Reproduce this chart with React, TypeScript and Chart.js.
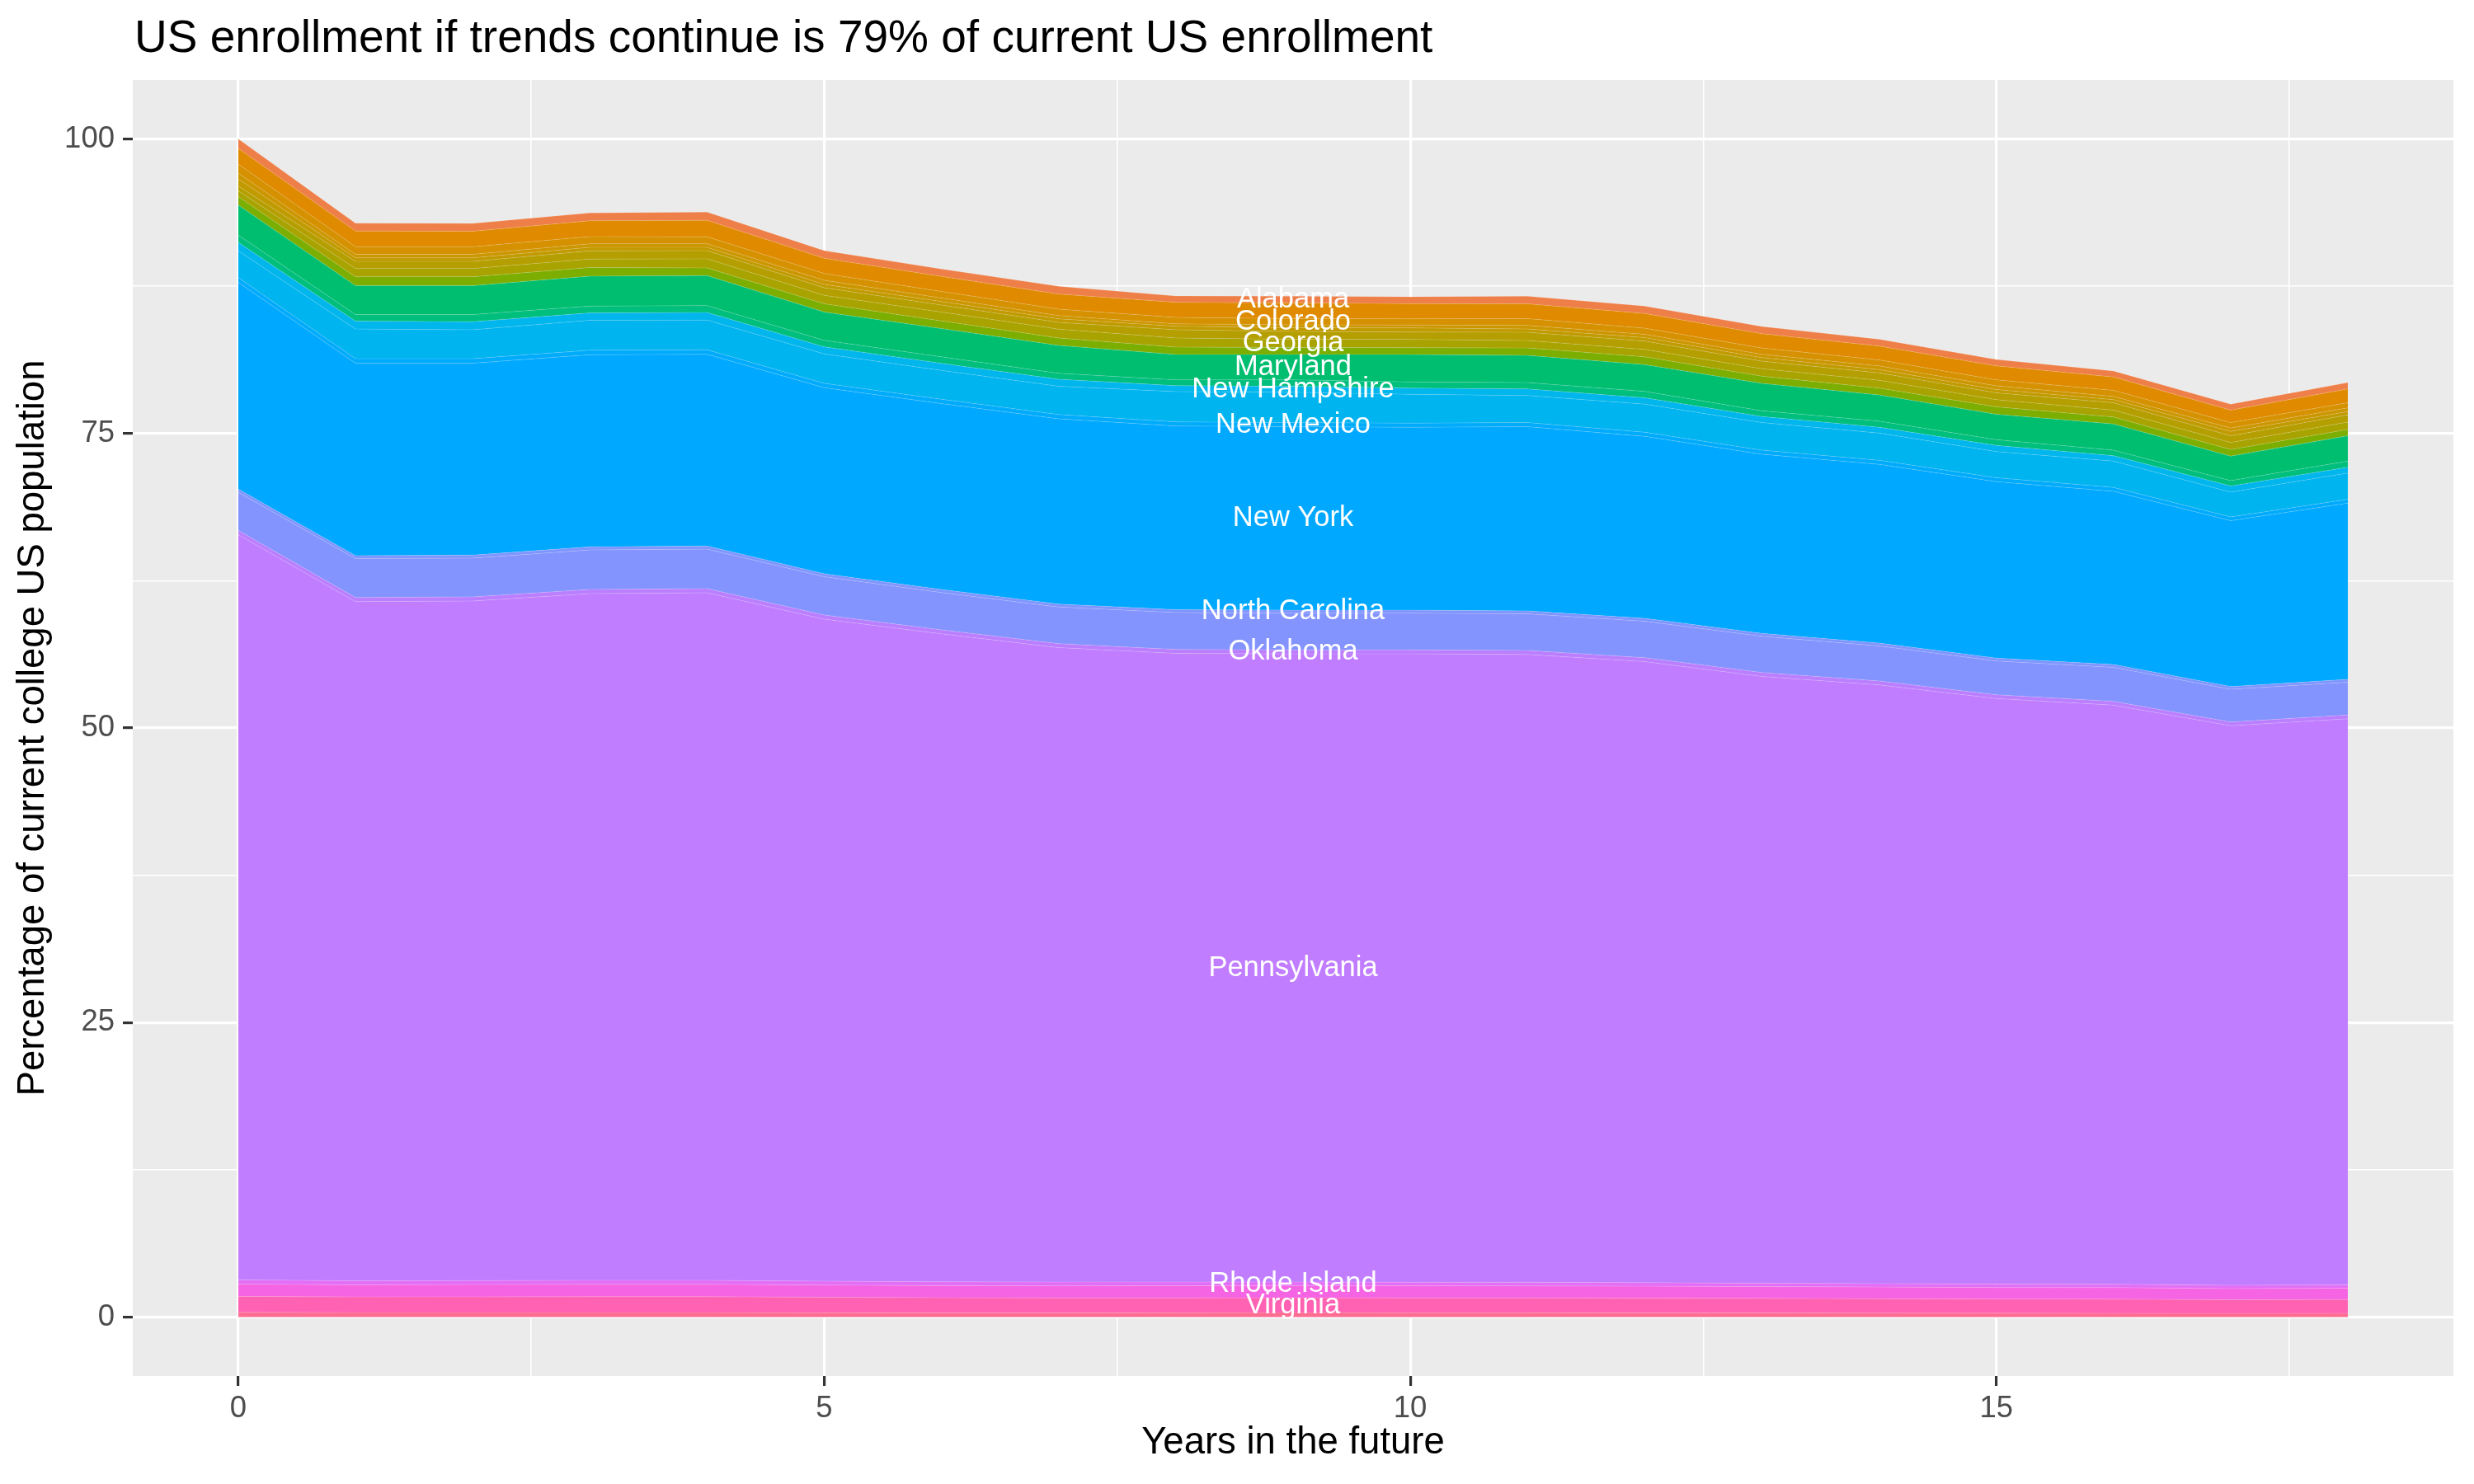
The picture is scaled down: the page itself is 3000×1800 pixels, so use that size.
import { useEffect, useRef } from 'react'
import { Chart, registerables } from 'chart.js'

Chart.register(...registerables)

const FONT = '"Liberation Sans", Arial, Helvetica, sans-serif'

const years = [0, 1, 2, 3, 4, 5, 6, 7, 8, 9, 10, 11, 12, 13, 14, 15, 16, 17, 18]
const xTicks = [0, 2.5, 5, 7.5, 10, 12.5, 15, 17.5]
const yTicks = [0, 12.5, 25, 37.5, 50, 62.5, 75, 87.5, 100]
const labelYear = 9

// share of current US enrollment per state (top of the stack first)
const alabama = [0.8, 0.67, 0.67, 0.67, 0.7, 0.65, 0.62, 0.66, 0.54, 0.58, 0.58, 0.65, 0.63, 0.61, 0.58, 0.54, 0.51, 0.51, 0.54]
const california = [1.34, 1.33, 1.31, 1.34, 1.4, 1.29, 1.28, 1.28, 1.28, 1.32, 1.29, 1.25, 1.25, 1.21, 1.18, 1.18, 1.13, 1.06, 1.18]
const colorado = [0.76, 0.65, 0.65, 0.61, 0.59, 0.58, 0.55, 0.55, 0.55, 0.53, 0.53, 0.58, 0.51, 0.54, 0.51, 0.51, 0.52, 0.46, 0.43]
const connecticut = [0.5, 0.3, 0.3, 0.3, 0.3, 0.35, 0.3, 0.27, 0.2, 0.24, 0.24, 0.31, 0.28, 0.28, 0.31, 0.31, 0.27, 0.29, 0.31]
const districtOfColumbia = [0.6, 0.3, 0.3, 0.3, 0.28, 0.28, 0.3, 0.3, 0.3, 0.33, 0.35, 0.28, 0.3, 0.3, 0.28, 0.28, 0.27, 0.37, 0.28]
const florida = [0.4, 0.6, 0.6, 0.7, 0.7, 0.65, 0.6, 0.58, 0.7, 0.65, 0.63, 0.7, 0.71, 0.64, 0.63, 0.58, 0.62, 0.57, 0.61]
const georgia = [0.5, 0.7, 0.7, 0.72, 0.77, 0.72, 0.75, 0.75, 0.77, 0.7, 0.7, 0.63, 0.63, 0.63, 0.66, 0.61, 0.59, 0.6, 0.63]
const kentucky = [0.72, 0.75, 0.75, 0.73, 0.65, 0.7, 0.65, 0.63, 0.63, 0.6, 0.58, 0.63, 0.66, 0.61, 0.58, 0.63, 0.58, 0.56, 0.54]
const maryland = [2.54, 2.46, 2.46, 2.54, 2.55, 2.4, 2.4, 2.37, 2.15, 2.15, 2.33, 2.3, 2.27, 2.32, 2.23, 2.16, 2.23, 2.07, 2.15]
const massachusetts = [0.62, 0.56, 0.61, 0.58, 0.58, 0.55, 0.55, 0.5, 0.5, 0.55, 0.52, 0.54, 0.54, 0.49, 0.51, 0.49, 0.47, 0.46, 0.52]
const newHampshire = [0.72, 0.67, 0.68, 0.62, 0.65, 0.6, 0.6, 0.6, 0.5, 0.5, 0.53, 0.56, 0.54, 0.52, 0.5, 0.52, 0.46, 0.52, 0.49]
const newJersey = [2.28, 2.52, 2.46, 2.55, 2.52, 2.5, 2.45, 2.4, 2.57, 2.58, 2.45, 2.3, 2.39, 2.34, 2.31, 2.22, 2.23, 2.11, 2.23]
const newMexico = [0.4, 0.38, 0.38, 0.38, 0.38, 0.37, 0.37, 0.36, 0.35, 0.35, 0.35, 0.35, 0.35, 0.34, 0.34, 0.33, 0.33, 0.32, 0.33]
const newYork = [17.55, 16.33, 16.29, 16.31, 16.28, 15.79, 15.78, 15.72, 15.58, 15.57, 15.52, 15.63, 15.44, 15.21, 15.17, 14.98, 14.7, 14.07, 14.95]
const northCarolina = [0.27, 0.25, 0.25, 0.26, 0.26, 0.25, 0.25, 0.25, 0.25, 0.25, 0.25, 0.25, 0.25, 0.25, 0.24, 0.24, 0.24, 0.23, 0.24]
const ohio = [3.23, 3.3, 3.29, 3.35, 3.35, 3.25, 3.17, 3.11, 3.13, 3.12, 3.12, 3.11, 3.09, 3.07, 2.98, 2.87, 2.89, 2.78, 2.79]
const oklahoma = [0.36, 0.35, 0.35, 0.35, 0.35, 0.35, 0.34, 0.34, 0.34, 0.34, 0.34, 0.34, 0.33, 0.33, 0.33, 0.32, 0.32, 0.31, 0.32]
const pennsylvania = [63.25, 57.65, 57.68, 58.29, 58.36, 56.19, 54.99, 53.85, 53.36, 53.32, 53.33, 53.29, 52.72, 51.5, 50.82, 49.7, 49.16, 47.5, 48.05]
const rhodeIsland = [0.35, 0.34, 0.34, 0.34, 0.34, 0.33, 0.33, 0.32, 0.31, 0.3, 0.3, 0.3, 0.3, 0.29, 0.29, 0.29, 0.28, 0.28, 0.28]
const texas = [1.05, 1.03, 1.04, 1.05, 1.05, 1.03, 1.02, 1.02, 1.03, 1.03, 1.03, 1.02, 1.01, 1.0, 0.99, 0.98, 0.98, 0.95, 0.96]
const virginia = [1.36, 1.33, 1.34, 1.35, 1.35, 1.32, 1.29, 1.27, 1.26, 1.26, 1.26, 1.26, 1.25, 1.24, 1.22, 1.2, 1.2, 1.16, 1.17]
const wisconsin = [0.4, 0.38, 0.38, 0.38, 0.38, 0.37, 0.36, 0.36, 0.37, 0.38, 0.37, 0.37, 0.36, 0.35, 0.34, 0.33, 0.32, 0.31, 0.32]

const stateNames = [
  'Alabama', 'California', 'Colorado', 'Connecticut', 'District of Columbia', 'Florida', 'Georgia',
  'Kentucky', 'Maryland', 'Massachusetts', 'New Hampshire', 'New Jersey', 'New Mexico', 'New York',
  'North Carolina', 'Ohio', 'Oklahoma', 'Pennsylvania', 'Rhode Island', 'Texas', 'Virginia', 'Wisconsin',
]
const stateValues = [
  alabama, california, colorado, connecticut, districtOfColumbia, florida, georgia,
  kentucky, maryland, massachusetts, newHampshire, newJersey, newMexico, newYork,
  northCarolina, ohio, oklahoma, pennsylvania, rhodeIsland, texas, virginia, wisconsin,
]
const labelledStates = [
  'Alabama', 'Colorado', 'Georgia', 'Maryland', 'New Hampshire', 'New Mexico', 'New York',
  'North Carolina', 'Oklahoma', 'Pennsylvania', 'Rhode Island', 'Virginia',
]

const stateColors = [
  '#EF7F48', '#E08A00', '#D69100', '#CC9600', '#C19A00', '#B59F00', '#A9A300',
  '#7CAE00', '#00BE70', '#00BF7C', '#00B6EC', '#00B4F0', '#00ABFC', '#00A9FF',
  '#7F95FF', '#8494FF', '#BA7EFF', '#C17DFF', '#E36EF6', '#F564E3', '#FF62B2', '#FF6C91',
]

export default function App() {
  const canvasRef = useRef<HTMLCanvasElement>(null)
  const chartRef = useRef<Chart | null>(null)

  useEffect(() => {
    if (!canvasRef.current) return
    document.body.style.margin = '0'

    // Chart.js stacks dataset 0 at the bottom, so reverse the top-first list
    const order = stateNames.map((_, i) => i).reverse()
    const datasets = order.map((i, d) => ({
      label: stateNames[i],
      data: stateValues[i].map((v, k) => ({ x: years[k], y: v })),
      backgroundColor: stateColors[i],
      borderColor: 'rgba(255,255,255,0.16)',
      borderWidth: 1,
      pointRadius: 0,
      tension: 0,
      fill: d === 0 ? 'origin' : '-1',
    }))

    const panel = {
      id: 'panel',
      beforeDraw(chart: Chart) {
        const { ctx, chartArea } = chart
        ctx.save()
        ctx.fillStyle = '#ffffff'
        ctx.fillRect(0, 0, chart.width, chart.height)
        ctx.fillStyle = '#EBEBEB'
        ctx.fillRect(chartArea.left, chartArea.top, chartArea.right - chartArea.left, chartArea.bottom - chartArea.top)
        ctx.restore()
      },
    }

    const texts = {
      id: 'texts',
      afterDatasetsDraw(chart: Chart) {
        const { ctx, chartArea } = chart
        const xs = chart.scales.x
        const ys = chart.scales.y
        const k = years.indexOf(labelYear)
        const px = xs.getPixelForValue(labelYear)
        ctx.save()
        ctx.fillStyle = '#ffffff'
        ctx.textAlign = 'center'
        ctx.textBaseline = 'middle'
        ctx.font = `34.5px ${FONT}`
        datasets.forEach((ds, d) => {
          if (!labelledStates.includes(ds.label)) return
          const top = (chart.getDatasetMeta(d).data[k] as any).y
          const bottom = d === 0 ? ys.getPixelForValue(0) : (chart.getDatasetMeta(d - 1).data[k] as any).y
          ctx.fillText(ds.label, px, (top + bottom) / 2)
        })

        ctx.fillStyle = '#000000'
        ctx.textAlign = 'left'
        ctx.textBaseline = 'alphabetic'
        ctx.font = `55px ${FONT}`
        ctx.fillText('US enrollment if trends continue is 79% of current US enrollment', chartArea.left + 2, 63)

        ctx.font = `45.5px ${FONT}`
        ctx.textAlign = 'center'
        ctx.textBaseline = 'middle'
        ctx.fillText('Years in the future', (chartArea.left + chartArea.right) / 2, 1750)
        ctx.translate(40, (chartArea.top + chartArea.bottom) / 2)
        ctx.rotate(-Math.PI / 2)
        ctx.fillText('Percentage of current college US population', 0, 0)
        ctx.restore()
      },
    }

    chartRef.current = new Chart(canvasRef.current, {
      type: 'line',
      data: { datasets },
      options: {
        animation: false,
        responsive: true,
        maintainAspectRatio: false,
        layout: { padding: { top: 97, right: 25, left: 0, bottom: 0 } },
        plugins: {
          legend: { display: false },
          tooltip: { enabled: false },
          title: { display: false },
        },
        scales: {
          x: {
            type: 'linear',
            min: -0.9,
            max: 18.9,
            afterBuildTicks: (s: any) => {
              s.ticks = xTicks.map((v) => ({ value: v }))
            },
            afterFit: (s: any) => {
              s.height = 131
            },
            border: { display: false },
            grid: {
              color: '#ffffff',
              lineWidth: (c: any) => (c.tick && c.tick.value % 5 === 0 ? 3.2 : 1.6),
              tickColor: (c: any) => (c.tick && c.tick.value % 5 === 0 ? '#333333' : 'rgba(0,0,0,0)'),
              tickWidth: 3.2,
              tickLength: 12,
            },
            ticks: {
              autoSkip: false,
              maxRotation: 0,
              minRotation: 0,
              padding: 6,
              color: '#4D4D4D',
              font: { family: FONT, size: 36.5 },
              callback: (v: any) => (Number(v) % 5 === 0 ? String(v) : ''),
            },
          },
          y: {
            type: 'linear',
            stacked: true,
            min: -5,
            max: 105,
            afterBuildTicks: (s: any) => {
              s.ticks = yTicks.map((v) => ({ value: v }))
            },
            afterFit: (s: any) => {
              s.width = 161
            },
            border: { display: false },
            grid: {
              color: '#ffffff',
              lineWidth: (c: any) => (c.tick && c.tick.value % 25 === 0 ? 3.2 : 1.6),
              tickColor: (c: any) => (c.tick && c.tick.value % 25 === 0 ? '#333333' : 'rgba(0,0,0,0)'),
              tickWidth: 3.2,
              tickLength: 12,
            },
            ticks: {
              autoSkip: false,
              padding: 10,
              color: '#4D4D4D',
              font: { family: FONT, size: 36.5 },
              callback: (v: any) => (Number(v) % 25 === 0 ? String(v) : ''),
            },
          },
        },
      },
      plugins: [panel, texts],
    } as any)

    return () => {
      chartRef.current?.destroy()
      chartRef.current = null
    }
  }, [])

  return (
    <div style={{ position: 'absolute', left: 0, top: 0, width: 3000, height: 1800, background: '#fff' }}>
      <canvas ref={canvasRef} />
    </div>
  )
}
